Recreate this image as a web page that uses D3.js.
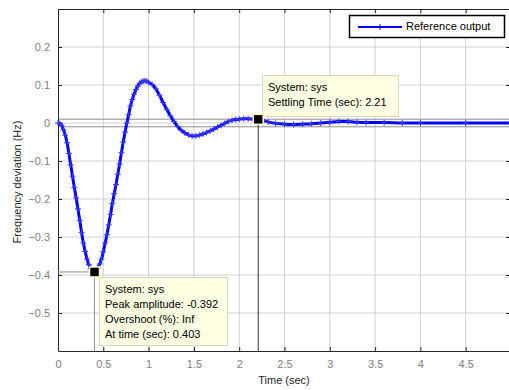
<!DOCTYPE html>
<html><head><meta charset="utf-8">
<script src="https://cdn.jsdelivr.net/npm/d3@7"></script>
<style>body{margin:0;background:#fff;}svg{display:block;font-family:"Liberation Sans",Arial,sans-serif;}</style>
</head><body>
<svg id="c" width="509" height="390"></svg>
<script>
const timeSec = [0,0.02,0.04,0.06,0.08,0.10,0.12,0.14,0.16,0.18,0.20,0.22,0.24,0.26,0.28,0.30,0.32,0.34,0.36,0.38,0.40,0.42,0.44,0.46,0.48,0.50,0.52,0.54,0.56,0.58,0.60,0.62,0.64,0.66,0.68,0.70,0.72,0.74,0.76,0.78,0.80,0.82,0.84,0.86,0.88,0.90,0.92,0.94,0.96,0.98,1.00,1.04,1.08,1.12,1.16,1.20,1.24,1.28,1.32,1.36,1.40,1.44,1.48,1.52,1.56,1.60,1.64,1.68,1.72,1.76,1.80,1.84,1.88,1.92,1.96,2.00,2.05,2.10,2.15,2.21,2.26,2.32,2.40,2.50,2.60,2.70,2.80,2.90,3.00,3.10,3.20,3.30,3.40,3.60,3.80,4.00,4.50,5.00];
const freqDev = [0,-0.001,-0.006,-0.018,-0.032,-0.052,-0.080,-0.110,-0.140,-0.170,-0.197,-0.226,-0.256,-0.288,-0.316,-0.338,-0.358,-0.373,-0.384,-0.390,-0.392,-0.390,-0.382,-0.371,-0.358,-0.339,-0.316,-0.294,-0.268,-0.241,-0.212,-0.186,-0.162,-0.135,-0.108,-0.078,-0.050,-0.024,0.0,0.022,0.045,0.062,0.076,0.088,0.097,0.104,0.108,0.110,0.111,0.110,0.107,0.101,0.090,0.073,0.054,0.036,0.019,0.004,-0.009,-0.019,-0.026,-0.031,-0.034,-0.034,-0.032,-0.029,-0.025,-0.021,-0.016,-0.011,-0.006,-0.001,0.004,0.007,0.009,0.010,0.011,0.011,0.010,0.0097,0.007,0.003,-0.001,-0.003,-0.004,-0.003,-0.002,0.0,0.002,0.004,0.004,0.002,0.001,0.001,0.0,0.0,0.0,0.0];
const xTicks = [0,0.5,1,1.5,2,2.5,3,3.5,4,4.5];
const yTicks = [-0.5,-0.4,-0.3,-0.2,-0.1,0,0.1,0.2];
const xGrid = [0.5,1,1.5,2,2.5,3,3.5,4,4.5];
const yGrid = [-0.5,-0.4,-0.3,-0.2,-0.1,0,0.1,0.2];
const settleBand = [0.01,-0.01];
const peak = {t:0.403, y:-0.392};
const settle = {t:2.21, y:0.0097};
const peakTip = ["System: sys","Peak amplitude: -0.392","Overshoot (%): Inf","At time (sec): 0.403"];
const settleTip = ["System: sys","Settling Time (sec): 2.21"];
const legendLabel = "Reference output";

const svg = d3.select("#c");
const x = d3.scaleLinear().domain([0,5]).range([58,511]);
const y = d3.scaleLinear().domain([-0.6,0.3]).range([351,9]);

// grid
svg.append("g").selectAll("line").data(xGrid).join("line")
  .attr("x1",d=>x(d)).attr("x2",d=>x(d)).attr("y1",y(0.3)).attr("y2",y(-0.6))
  .attr("stroke","#d0d0d0").attr("stroke-width",1);
svg.append("g").selectAll("line").data(yGrid).join("line")
  .attr("x1",x(0)).attr("x2",x(5)).attr("y1",d=>y(d)).attr("y2",d=>y(d))
  .attr("stroke","#d0d0d0").attr("stroke-width",1);

// settling band lines
svg.append("g").selectAll("line").data(settleBand).join("line")
  .attr("x1",x(0)).attr("x2",x(5)).attr("y1",d=>y(d)).attr("y2",d=>y(d))
  .attr("stroke","#8c8c8c").attr("stroke-width",1);

// axes
const fmt = d=> d===0 ? "0" : d3.format("")(d);
const xAxB = svg.append("g").attr("transform",`translate(0,${y(-0.6)})`)
  .call(d3.axisBottom(x).tickValues(xTicks).tickSizeInner(-4).tickSizeOuter(0).tickPadding(9).tickFormat(fmt));
const xAxT = svg.append("g").attr("transform",`translate(0,${y(0.3)})`)
  .call(d3.axisTop(x).tickValues(xTicks).tickSizeInner(-4).tickSizeOuter(0).tickFormat(""));
const yAxL = svg.append("g").attr("transform",`translate(${x(0)},0)`)
  .call(d3.axisLeft(y).tickValues(yTicks).tickSizeInner(-4).tickSizeOuter(0).tickPadding(8).tickFormat(fmt));
const yAxR = svg.append("g").attr("transform",`translate(${x(5)-1},0)`)
  .call(d3.axisRight(y).tickValues(yTicks).tickSizeInner(-4).tickSizeOuter(0).tickFormat(""));
[xAxB,xAxT,yAxL,yAxR].forEach(g=>{
  g.select(".domain").attr("stroke","#262626");
  g.selectAll(".tick line").attr("stroke","#262626");
  g.selectAll(".tick text").attr("fill","#808080").attr("font-size",11).attr("font-family","Liberation Sans, Arial, sans-serif");
});

// peak marker lines
svg.append("line").attr("x1",x(0)).attr("x2",x(peak.t)).attr("y1",y(peak.y)).attr("y2",y(peak.y))
  .attr("stroke","#909090").attr("stroke-width",1);
svg.append("line").attr("x1",x(peak.t)).attr("x2",x(peak.t)).attr("y1",y(peak.y)).attr("y2",y(-0.6))
  .attr("stroke","#909090").attr("stroke-width",1);
// settling vertical line
svg.append("line").attr("x1",x(settle.t)).attr("x2",x(settle.t)).attr("y1",y(settle.y)).attr("y2",y(-0.6))
  .attr("stroke","#333").attr("stroke-width",1);

// curve
const data = timeSec.map((t,i)=>({t, v:freqDev[i]}));
svg.append("path").datum(data)
  .attr("d", d3.line().x(d=>x(d.t)).y(d=>y(d.v)).curve(d3.curveMonotoneX))
  .attr("fill","none").attr("stroke","#0000ff").attr("stroke-width",3).attr("stroke-linejoin","round");
svg.append("g").selectAll("path").data(data).join("path")
  .attr("d", d=>{const cx=x(d.t), cy=y(d.v); return `M${cx-3},${cy}H${cx+3}M${cx},${cy-3}V${cy+3}`;})
  .attr("stroke","#3a3aff").attr("stroke-width",1).attr("fill","none");

// data tips
function tip(lines, bx, by, w, h, tx, ty){
  const g = svg.append("g");
  g.append("rect").attr("x",bx).attr("y",by).attr("width",w).attr("height",h)
    .attr("fill","#ffffe3").attr("stroke","#d8d6bd").attr("stroke-width",1);
  g.selectAll("text").data(lines).join("text")
    .attr("x",tx).attr("y",(d,i)=>ty+i*15).attr("font-size",11).attr("fill","#000")
    .attr("dominant-baseline","middle").text(d=>d);
}
tip(peakTip, 99.5, 277.5, 128, 68, 105, 290);
tip(settleTip, 262.5, 75.5, 136, 41, 268, 88);

// markers
[peak, settle].forEach(p=>{
  svg.append("rect").attr("x",x(p.t)-5).attr("y",y(p.y)-5).attr("width",10).attr("height",10)
    .attr("fill","#000").attr("stroke","#ffffd0").attr("stroke-width",1.5);
});

// legend
const lg = svg.append("g");
lg.append("rect").attr("x",349.5).attr("y",15.5).attr("width",155).attr("height",22)
  .attr("fill","#fff").attr("stroke","#000").attr("stroke-width",1.5);
lg.append("line").attr("x1",358).attr("x2",402).attr("y1",27).attr("y2",27).attr("stroke","#0000ff").attr("stroke-width",2);
lg.append("path").attr("d","M377,27H383M380,24V30").attr("stroke","#0000ff").attr("stroke-width",1);
lg.append("text").attr("x",406).attr("y",27).attr("dominant-baseline","middle").attr("font-size",11).attr("fill","#000").text(legendLabel);

// axis titles
svg.append("text").attr("x",284).attr("y",381).attr("text-anchor","middle").attr("dominant-baseline","middle")
  .attr("font-size",11).attr("fill","#262626").text("Time (sec)");
svg.append("text").attr("transform","translate(18,182) rotate(-90)").attr("text-anchor","middle").attr("dominant-baseline","middle")
  .attr("font-size",11).attr("fill","#262626").text("Frequency deviation (Hz)");
</script>
</body></html>
